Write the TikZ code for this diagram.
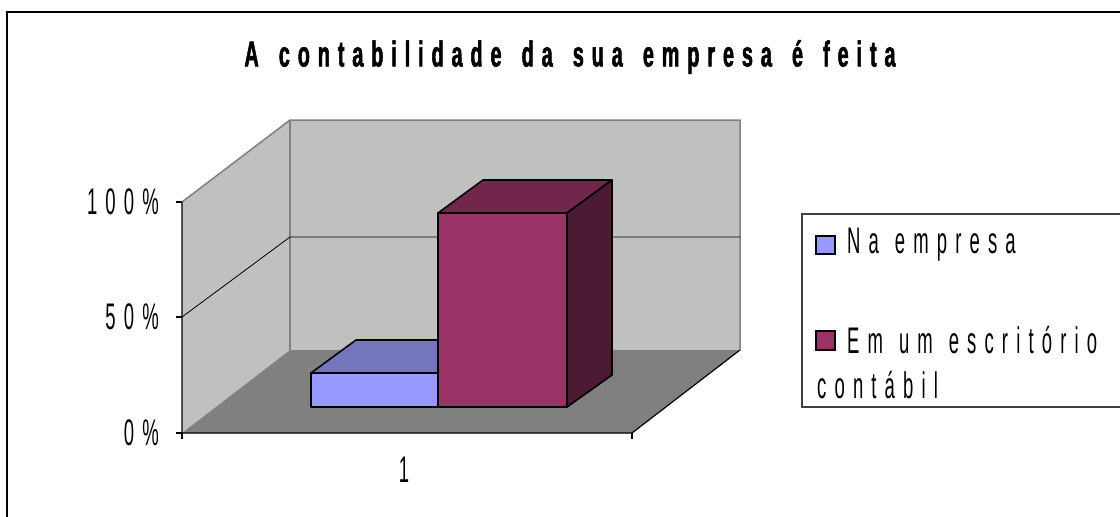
\documentclass[tikz,border=0pt]{standalone}
\usepackage{fontspec}
\setmainfont{Liberation Sans}
\newfontfamily\chartfont[FakeStretch=0.5,LetterSpace=22,WordSpace=1.2]{Liberation Sans}
\newfontfamily\titlefont[FakeStretch=0.55,LetterSpace=22,WordSpace=1.5,FakeBold=1.5]{Liberation Sans Bold}
\definecolor{wallgray}{HTML}{C0C0C0}
\definecolor{floorgray}{HTML}{808080}
\definecolor{bluefront}{HTML}{9999FF}
\definecolor{bluetop}{HTML}{7575BD}
\definecolor{redfront}{HTML}{993366}
\definecolor{redtop}{HTML}{72264C}
\definecolor{redside}{HTML}{4C1A33}

\begin{document}
\begin{tikzpicture}[x=1pt,y=-1pt,
    txt/.style={inner sep=0pt,font=\chartfont\fontsize{37}{42}\selectfont},
    face/.style={draw=black,line width=1.6pt,line join=round}]
    \useasboundingbox (0,0) rectangle (1120,517);
    % frame
    \draw[line width=1.5pt] (7,525) -- (7,12) -- (1125,12);
    \node[txt,font=\titlefont\fontsize{36}{42}\selectfont] (title) at (570,57) {A contabilidade da sua empresa é feita};
    % walls and floor
    \fill[wallgray] (182,433) -- (182,202) -- (290,120) -- (290,350) -- cycle;
    \fill[wallgray] (290,120) rectangle (740,350);
    \fill[floorgray] (182,433) -- (290,350) -- (740,350) -- (632,433) -- cycle;
    \draw[floorgray,line width=1.5pt] (182,202) -- (290,120) -- (740,120) -- (740,350);
    \draw[floorgray,line width=1.5pt] (290,120) -- (290,350);
    \draw[line width=0.8pt] (182,317) -- (290,237) -- (740,237);
    % axes
    \draw[line width=1.2pt] (182,202) -- (182,433) -- (632,433) -- (740,350);
    \foreach \y in {202,317,433} \draw[line width=1.2pt] (176,\y) -- (182,\y);
    \draw[line width=1.2pt] (182,433) -- (182,439) (632,433) -- (632,439);
    \node[txt,anchor=east] (p100) at (159,202) {100\%};
    \node[txt,anchor=east] (p50) at (159,317) {50\%};
    \node[txt,anchor=east] (p0) at (159,433) {0\%};
    \node[txt] (cat) at (404,470) {1};
    % bars
    \filldraw[face,fill=bluetop] (311,373) -- (356,340) -- (483,340) -- (438,373) -- cycle;
    \filldraw[face,fill=bluefront] (311,373) rectangle (438,407);
    \filldraw[face,fill=redtop] (438,213) -- (483,180) -- (612,180) -- (567,213) -- cycle;
    \filldraw[face,fill=redside] (567,213) -- (612,180) -- (612,375) -- (567,407) -- cycle;
    \filldraw[face,fill=redfront] (438,213) rectangle (567,407);
    % legend
    \draw[black!75,line width=1.2pt] (802,214) rectangle (1130,407);
    \filldraw[fill=bluefront,line width=1.5pt] (816,236) rectangle (835,254);
    \filldraw[fill=redfront,line width=1.5pt] (816,331) rectangle (835,350);
    \node[txt,anchor=west] (leg1) at (847,245) {Na empresa};
    \node[txt,anchor=west] (leg2) at (847,340) {Em um escritório};
    \node[txt,anchor=west] (leg2b) at (817,385) {contábil};
\end{tikzpicture}
\end{document}
